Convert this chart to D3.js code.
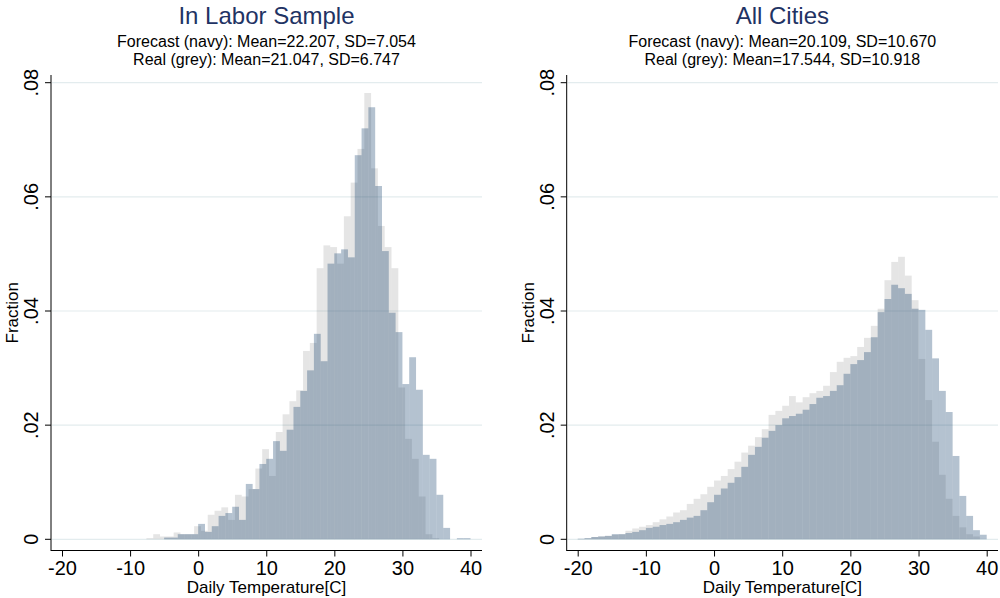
<!DOCTYPE html>
<html>
<head>
<meta charset="utf-8">
<script src="https://cdn.jsdelivr.net/npm/d3@7"></script>
<style>
  body { margin: 0; background: #fff; }
  svg { display: block; }
  text { font-family: "Liberation Sans", Arial, Helvetica, sans-serif; fill: #000; }
</style>
</head>
<body>
<svg id="chart" width="1000" height="598"></svg>
<script>
// Axis ticks shared by both panels
const yTicks = [0, 0.02, 0.04, 0.06, 0.08];
const yTickLabels = ["0", ".02", ".04", ".06", ".08"];
const xTicks = [-20, -10, 0, 10, 20, 30, 40];
const xTickLabels = ["-20", "-10", "0", "10", "20", "30", "40"];
const binWidth = 1;

// In Labor Sample: histogram fractions, 1-degree bins
const laborForecastStart = -5;
const laborForecast = [0.0003, 0.0003, 0.0009, 0.0009, 0.0009, 0.0027, 0.0013, 0.0023, 0.0041, 0.0046,
  0.0057, 0.0034, 0.0097, 0.0088, 0.0132, 0.0141, 0.0172, 0.0155, 0.0192, 0.0232,
  0.0260, 0.0296, 0.0360, 0.0312, 0.0483, 0.0501, 0.0508, 0.0494, 0.0673, 0.0720,
  0.0757, 0.0619, 0.0505, 0.0397, 0.0363, 0.0272, 0.0319, 0.0262, 0.0148, 0.0141,
  0.0078, 0.0020, 0, 0.0002, 0.0002];
const laborRealStart = -7.6;
const laborReal = [0.0002, 0.0009, 0.0005, 0.0005, 0.0012, 0.0009, 0.0009, 0.0023, 0.0015, 0.0043,
  0.0050, 0.0056, 0.0034, 0.0078, 0.0075, 0.0088, 0.0124, 0.0158, 0.0111, 0.0188,
  0.0219, 0.0242, 0.0261, 0.0330, 0.0344, 0.0475, 0.0515, 0.0512, 0.0483, 0.0566,
  0.0625, 0.0684, 0.0782, 0.0650, 0.0549, 0.0512, 0.0475, 0.0266, 0.0176, 0.0141,
  0.0075, 0.0009, 0.0002];

// All Cities: histogram fractions, 1-degree bins
const citiesForecastStart = -20;
const citiesForecast = [0.0001, 0.0002, 0.0004, 0.0005, 0.0006, 0.0009, 0.0009, 0.0011, 0.0013, 0.0016,
  0.0020, 0.0022, 0.0025, 0.0027, 0.0030, 0.0034, 0.0038, 0.0041, 0.0051, 0.0065,
  0.0078, 0.0089, 0.0099, 0.0109, 0.0127, 0.0148, 0.0162, 0.0178, 0.0190, 0.0200,
  0.0212, 0.0216, 0.0220, 0.0227, 0.0237, 0.0248, 0.0251, 0.0260, 0.0270, 0.0290,
  0.0307, 0.0314, 0.0328, 0.0354, 0.0398, 0.0421, 0.0446, 0.0440, 0.0430, 0.0404,
  0.0402, 0.0367, 0.0317, 0.0260, 0.0223, 0.0146, 0.0076, 0.0041, 0.0016, 0.0008];
const citiesRealStart = -20;
const citiesReal = [0.0001, 0.0002, 0.0004, 0.0005, 0.0006, 0.0008, 0.0009, 0.0015, 0.0019, 0.0022,
  0.0025, 0.0030, 0.0035, 0.0040, 0.0047, 0.0051, 0.0062, 0.0071, 0.0079, 0.0092,
  0.0103, 0.0111, 0.0123, 0.0136, 0.0152, 0.0164, 0.0179, 0.0193, 0.0218, 0.0225,
  0.0234, 0.0251, 0.0240, 0.0249, 0.0256, 0.0260, 0.0269, 0.0293, 0.0311, 0.0318,
  0.0321, 0.0337, 0.0353, 0.0374, 0.0404, 0.0454, 0.0486, 0.0495, 0.0462, 0.0419,
  0.0316, 0.0244, 0.0171, 0.0113, 0.0071, 0.0041, 0.0021, 0.0009, 0.0005];

const panels = [
  {
    title: "In Labor Sample",
    subtitle: ["Forecast (navy): Mean=22.207, SD=7.054", "Real (grey): Mean=21.047, SD=6.747"],
    forecastStart: laborForecastStart, forecast: laborForecast,
    realStart: laborRealStart, real: laborReal,
    axisLeft: 51, axisRight: 482, tickRange: [62, 470.5]
  },
  {
    title: "All Cities",
    subtitle: ["Forecast (navy): Mean=20.109, SD=10.670", "Real (grey): Mean=17.544, SD=10.918"],
    forecastStart: citiesForecastStart, forecast: citiesForecast,
    realStart: citiesRealStart, real: citiesReal,
    axisLeft: 566.7, axisRight: 998, tickRange: [577.7, 986.7]
  }
];

const svg = d3.select("#chart");
const y = d3.scaleLinear().domain([0, 0.08]).range([539.3, 82.7]);
const axisTop = 75, axisBottomY = 550.5;

const toBins = (start, values) => values.map((v, i) => ({ x0: start + i * binWidth, x1: start + (i + 1) * binWidth, v }));

panels.forEach(p => {
  const g = svg.append("g");
  const x = d3.scaleLinear().domain([-20, 40]).range(p.tickRange);
  const cx = (p.axisLeft + p.axisRight) / 2;

  // horizontal gridlines
  g.selectAll("line.grid").data(yTicks).join("line")
    .attr("x1", p.axisLeft + 1).attr("x2", p.axisRight)
    .attr("y1", d => y(d)).attr("y2", d => y(d))
    .attr("stroke", "#e3ecee").attr("stroke-width", 1.2);

  // real (grey) histogram, then forecast (navy) on top
  g.selectAll("rect.real").data(toBins(p.realStart, p.real)).join("rect")
    .attr("x", d => x(d.x0)).attr("width", d => x(d.x1) - x(d.x0))
    .attr("y", d => y(d.v)).attr("height", d => y(0) - y(d.v))
    .attr("fill", "#000").attr("fill-opacity", 0.1);
  g.selectAll("rect.fc").data(toBins(p.forecastStart, p.forecast)).join("rect")
    .attr("x", d => x(d.x0)).attr("width", d => x(d.x1) - x(d.x0))
    .attr("y", d => y(d.v)).attr("height", d => y(0) - y(d.v))
    .attr("fill", "#1a476f").attr("fill-opacity", 0.33);

  // axis lines
  g.append("line").attr("x1", p.axisLeft).attr("x2", p.axisLeft)
    .attr("y1", axisTop).attr("y2", axisBottomY + 0.5).attr("stroke", "#000").attr("stroke-width", 1);
  g.append("line").attr("x1", p.axisLeft).attr("x2", p.axisRight)
    .attr("y1", axisBottomY).attr("y2", axisBottomY).attr("stroke", "#000").attr("stroke-width", 1);

  // x axis ticks and labels
  const xa = g.append("g").attr("transform", `translate(0,${axisBottomY})`)
    .call(d3.axisBottom(x).tickValues(xTicks).tickSize(6).tickPadding(4)
      .tickFormat((d, i) => xTickLabels[i]));
  xa.select(".domain").remove();
  xa.selectAll(".tick line").attr("stroke", "#000");
  xa.selectAll(".tick text").attr("font-size", 20).attr("font-family", "Liberation Sans, Arial, sans-serif")
    .attr("fill", "#000").attr("dy", null).attr("y", 24.5);

  // y axis ticks and rotated labels
  g.selectAll("line.yt").data(yTicks).join("line")
    .attr("x1", p.axisLeft - 6).attr("x2", p.axisLeft)
    .attr("y1", d => y(d)).attr("y2", d => y(d)).attr("stroke", "#000");
  g.selectAll("text.yl").data(yTicks).join("text")
    .attr("x", p.axisLeft - 13).attr("y", d => y(d))
    .attr("transform", d => `rotate(-90, ${p.axisLeft - 13}, ${y(d)})`)
    .attr("text-anchor", "middle").attr("font-size", 20)
    .text((d, i) => yTickLabels[i]);

  // axis titles
  g.append("text").attr("x", cx).attr("y", 593).attr("text-anchor", "middle")
    .attr("font-size", 17).text("Daily Temperature[C]");
  const fx = p.axisLeft - 33, fy = (axisTop + axisBottomY) / 2;
  g.append("text").attr("x", fx).attr("y", fy)
    .attr("transform", `rotate(-90, ${fx}, ${fy})`).attr("text-anchor", "middle")
    .attr("font-size", 17).text("Fraction");

  // title and two-line subtitle
  g.append("text").attr("x", cx).attr("y", 24).attr("text-anchor", "middle")
    .attr("font-size", 24).style("fill", "#1f3364").text(p.title);
  p.subtitle.forEach((s, i) => {
    g.append("text").attr("x", cx).attr("y", 47 + i * 18).attr("text-anchor", "middle")
      .attr("font-size", 16).text(s);
  });
});
</script>
</body>
</html>
